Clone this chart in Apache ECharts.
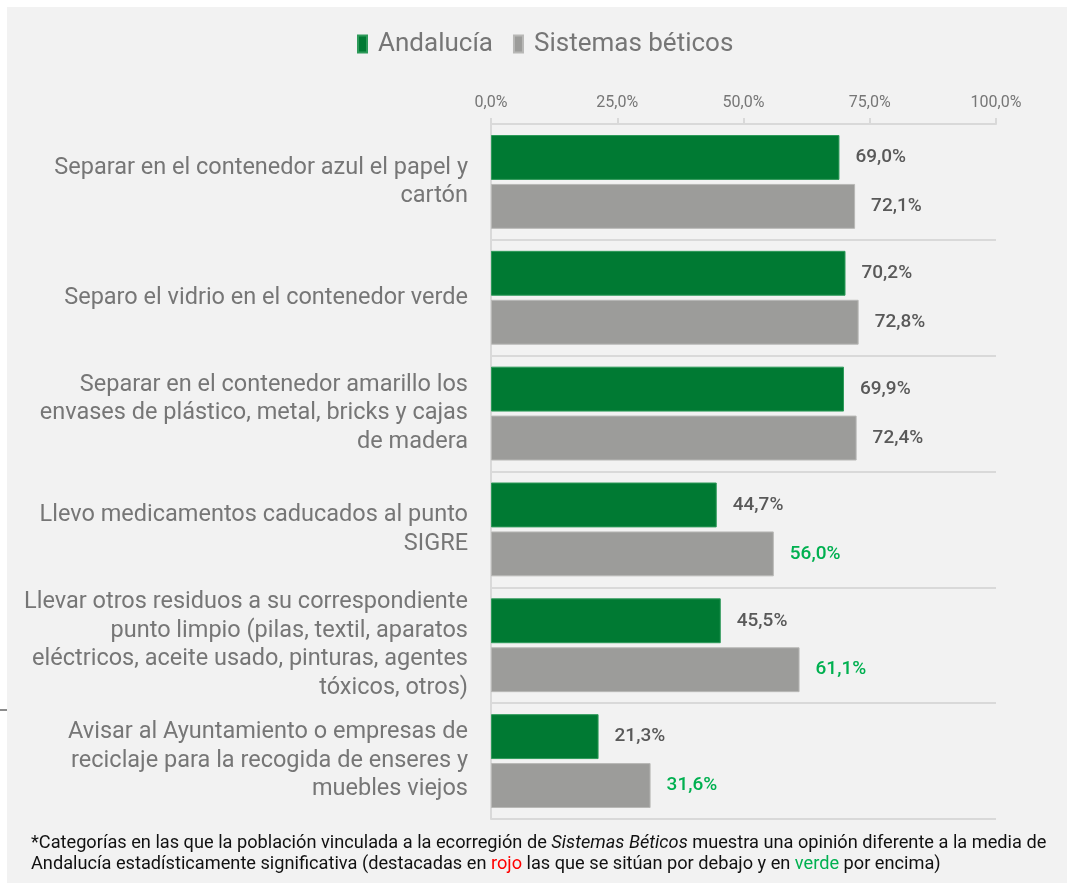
<!DOCTYPE html>
<html>
<head>
<meta charset="utf-8">
<script src="https://cdn.jsdelivr.net/npm/echarts@6/dist/echarts.min.js"></script>
<style>
  html, body { margin: 0; padding: 0; background: #ffffff; }
  #chart { width: 1067px; height: 883px; }
</style>
</head>
<body>
<div id="chart"></div>
<script>
let chartDom = document.getElementById('chart');
let myChart = echarts.init(chartDom);

// categories, top to bottom
let categories = [
    'Separar en el contenedor azul el papel y\ncartón',
    'Separo el vidrio en el contenedor verde',
    'Separar en el contenedor amarillo los\nenvases de plástico, metal, bricks y cajas\nde madera',
    'Llevo medicamentos caducados al punto\nSIGRE',
    'Llevar otros residuos a su correspondiente\npunto limpio (pilas, textil, aparatos\neléctricos, aceite usado, pinturas, agentes\ntóxicos, otros)',
    'Avisar al Ayuntamiento o empresas de\nreciclaje para la recogida de enseres y\nmuebles viejos'
];
let andalucia = [69.0, 70.2, 69.9, 44.7, 45.5, 21.3];
let sistemas = [72.1, 72.8, 72.4, 56.0, 61.1, 31.6];
// significance flag for Sistemas béticos: 1 = above the mean (green), 0 = not significant
let sistemasSig = [0, 0, 0, 1, 1, 1];

const FONT = 'Roboto';
const GREEN = '#007a33';
const GREY = '#9c9c9a';

function pct(v) {
    return v.toFixed(1).replace('.', ',') + '%';
}

let option = {
    backgroundColor: '#f2f2f2',
    animation: false,
    textStyle: { fontFamily: FONT },
    graphic: [
        { type: 'rect', shape: { x: 0, y: 0, width: 1067, height: 7 }, style: { fill: '#ffffff' }, silent: true },
        { type: 'rect', shape: { x: 0, y: 0, width: 7, height: 883 }, style: { fill: '#ffffff' }, silent: true },
        { type: 'line', shape: { x1: 0, y1: 710, x2: 7, y2: 710 }, style: { stroke: '#8c8c8c', lineWidth: 2 }, silent: true }
    ],
    title: {
        left: 26,
        top: 828,
        text: '{n|*Categorías en las que la población vinculada a la ecorregión de }{i|Sistemas Béticos}{n| muestra una opinión diferente a la media de}\n{n|Andalucía estadísticamente significativa (destacadas en }{r|rojo}{n| las que se sitúan por debajo y en }{g|verde}{n| por encima)}',
        textStyle: {
            fontWeight: 'normal',
            rich: {
                n: { fontFamily: FONT, fontSize: 18.2, fontWeight: 'normal', color: '#111111', lineHeight: 21 },
                i: { fontFamily: FONT, fontSize: 18.2, fontWeight: 'normal', color: '#111111', fontStyle: 'italic', lineHeight: 21 },
                r: { fontFamily: FONT, fontSize: 18.2, fontWeight: 'normal', color: '#ff0000', lineHeight: 21 },
                g: { fontFamily: FONT, fontSize: 18.2, fontWeight: 'normal', color: '#00b050', lineHeight: 21 }
            }
        }
    },
    legend: {
        top: 26,
        left: 352,
        itemWidth: 9,
        itemHeight: 17,
        itemGap: 20,
        icon: 'rect',
        textStyle: { fontFamily: FONT, fontSize: 26, color: '#767676', padding: [0, 0, 0, 6] },
        data: ['Andalucía', 'Sistemas béticos']
    },
    grid: {
        left: 491,
        right: 71,
        top: 124,
        bottom: 64
    },
    xAxis: {
        type: 'value',
        position: 'top',
        min: 0,
        max: 100,
        interval: 25,
        axisLine: { show: true, lineStyle: { color: '#d9d9d9', width: 2 } },
        axisTick: { show: true, length: 6, lineStyle: { color: '#d9d9d9', width: 2 } },
        splitLine: { show: false },
        axisLabel: {
            margin: 13,
            fontFamily: FONT,
            fontSize: 16,
            color: '#767676',
            formatter: function (v) { return pct(v); }
        }
    },
    yAxis: {
        type: 'category',
        inverse: true,
        data: categories,
        axisLine: { show: true, lineStyle: { color: '#d9d9d9', width: 2 } },
        axisTick: { show: false },
        splitLine: { show: true, lineStyle: { color: '#d9d9d9', width: 2 } },
        axisLabel: {
            margin: 23,
            fontFamily: FONT,
            fontSize: 23.5,
            lineHeight: 28.5,
            color: '#767676',
            align: 'right'
        }
    },
    series: [
        {
            name: 'Andalucía',
            type: 'bar',
            data: andalucia,
            barCategoryGap: '19%',
            barGap: '9%',
            itemStyle: { color: GREEN, borderColor: '#2e9a5a', borderWidth: 1 },
            label: {
                show: true,
                position: 'right',
                distance: 16,
                fontFamily: FONT,
                fontSize: 19,
                fontWeight: 500,
                color: '#595959',
                formatter: function (p) { return pct(p.value); }
            }
        },
        {
            name: 'Sistemas béticos',
            type: 'bar',
            data: sistemas.map(function (v, i) {
                return {
                    value: v,
                    label: { color: sistemasSig[i] ? '#00b050' : '#595959' }
                };
            }),
            itemStyle: { color: GREY, borderColor: '#b8b8b6', borderWidth: 1 },
            label: {
                show: true,
                position: 'right',
                distance: 16,
                fontFamily: FONT,
                fontSize: 19,
                fontWeight: 500,
                formatter: function (p) { return pct(p.value); }
            }
        }
    ]
};

option && myChart.setOption(option);
</script>
</body>
</html>
